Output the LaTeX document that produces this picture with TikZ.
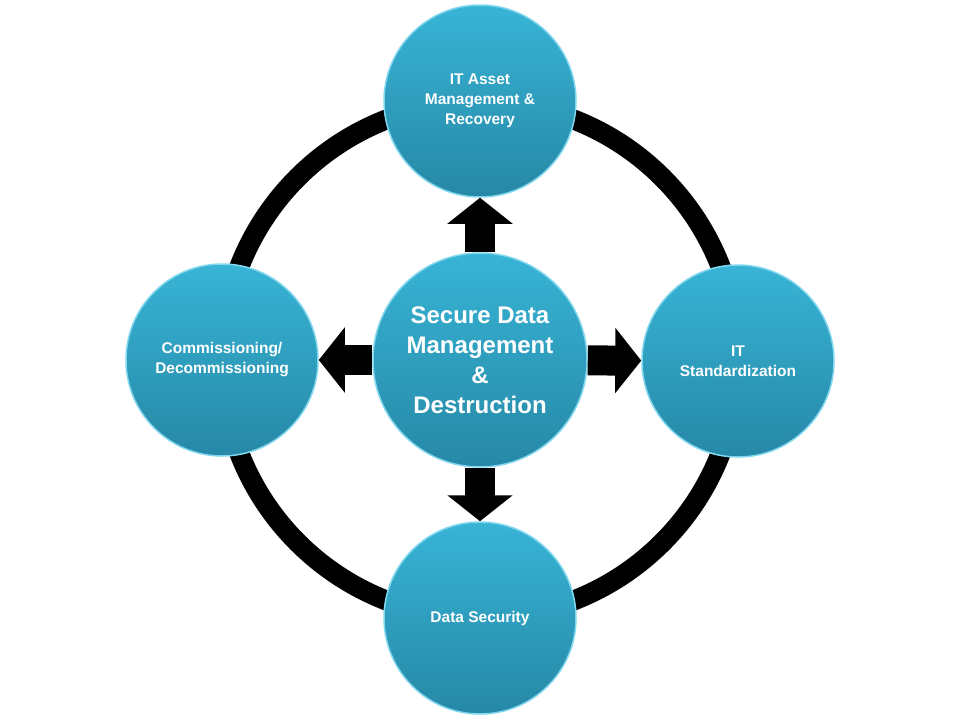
\documentclass[tikz,border=0pt]{standalone}
\usepackage{fontspec}
\setmainfont{Liberation Sans}
\usetikzlibrary{arrows.meta}
\definecolor{discTop}{RGB}{56,180,214}
\definecolor{discBot}{RGB}{38,136,166}
\definecolor{discRim}{RGB}{130,215,238}
\begin{document}
\begin{tikzpicture}[x=1pt, y=-1pt, line join=round,
    disc/.style={circle, minimum size=192pt, inner sep=0pt, top color=discTop,
      bottom color=discBot, draw=discRim, line width=1.5pt, text=white, align=center,
      font=\bfseries\fontsize{15.5}{20}\selectfont},
    hub/.style={disc, minimum size=214pt, font=\bfseries\fontsize{24}{30}\selectfont},
    blockarr/.style={line width=30pt, -{Triangle[length=26pt, width=64pt]}}]
	\useasboundingbox (0,0) rectangle (960,720);
	% Outer ring
	\coordinate (O) at (480,360);
	\draw[line width=20pt] (O) circle (258pt);
	% Centre and satellites
	\node[hub] (SDM) at (O) {Secure Data\\Management\\\&\\Destruction};
	\node[disc] (Asset) at (480,101) {IT Asset\\Management \&\\Recovery};
	\node[disc] (Std) at (738,361) {IT\\Standardization};
	\node[disc] (Sec) at (480,618) {Data Security};
	\node[disc] (Comm) at (222,360) {Commissioning/\\Decommissioning};
	% Block arrows
	\foreach \n in {Asset, Std, Sec, Comm}
	\draw[blockarr] (SDM) -- (\n);
\end{tikzpicture}
\end{document}
